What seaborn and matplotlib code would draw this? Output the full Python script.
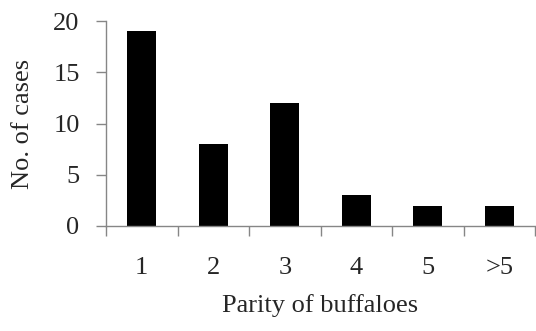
import matplotlib
matplotlib.use('Agg')
import pandas as pd
import seaborn as sns
from matplotlib import pyplot as plt
from matplotlib.ticker import FixedLocator

parity = ['1', '2', '3', '4', '5', '>5']
cases = [19, 8, 12, 3, 2, 2]

sns.set_theme(style='white')
plt.rcParams['font.family'] = ['Liberation Serif', 'DejaVu Serif']

df = pd.DataFrame({'parity': parity, 'cases': cases})

fig = plt.figure(figsize=(5.36, 3.31), dpi=100)
ax = fig.add_axes([106 / 536, 105 / 331, 429 / 536, 205 / 331])

sns.barplot(data=df, x='parity', y='cases', color='black', width=0.4,
            saturation=1, linewidth=0, ax=ax)

ax.set_xlim(-0.5, 5.5)
ax.set_ylim(0, 20)
ax.set_yticks([0, 5, 10, 15, 20])

ax.set_xlabel('Parity of buffaloes', fontsize=19, labelpad=11)
ax.set_ylabel('No. of cases', fontsize=19, labelpad=14)

for side in ['top', 'right']:
    ax.spines[side].set_visible(False)
for side in ['left', 'bottom']:
    ax.spines[side].set_color('#868686')
    ax.spines[side].set_linewidth(1)

# Excel-style: ticks between categories, labels at centres.
ax.xaxis.set_minor_locator(FixedLocator([i - 0.5 for i in range(len(parity) + 1)]))
ax.tick_params(axis='x', which='major', length=0, pad=22, labelsize=19)
ax.tick_params(axis='x', which='minor', bottom=True, length=7, width=1, color='#868686')
ax.tick_params(axis='y', left=True, length=7, width=1, color='#868686', pad=12, labelsize=19)

fig.savefig('out.png', dpi=100)
